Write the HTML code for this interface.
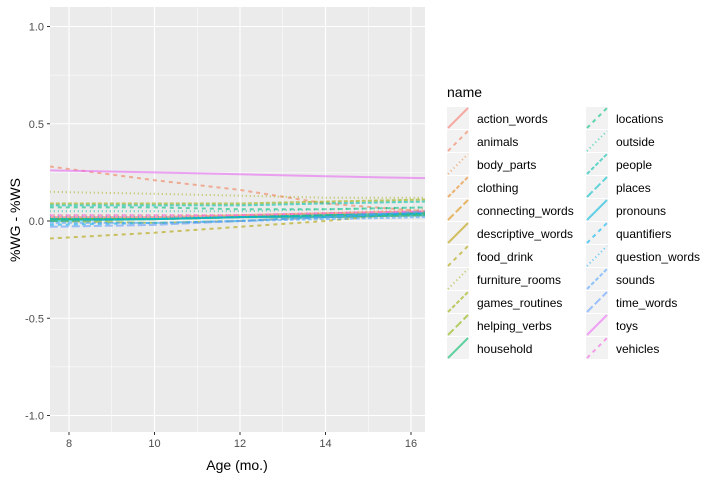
<!DOCTYPE html>
<html><head><meta charset="utf-8"><style>
body{margin:0;background:#fff;font-family:"Liberation Sans",Arial,sans-serif}
svg text{font-family:"Liberation Sans",Arial,sans-serif}
</style></head><body>
<svg id="chart" width="720" height="480"></svg>
<script>
const ages = [7.55, 10, 12, 14, 16.35];
const names = ["action_words","animals","body_parts","clothing","connecting_words","descriptive_words","food_drink","furniture_rooms","games_routines","helping_verbs","household","locations","outside","people","places","pronouns","quantifiers","question_words","sounds","time_words","toys","vehicles"];
const values = [
 [0.02,0.02,0.03,0.04,0.05],
 [0.28,0.21,0.16,0.09,0.05],
 [0.03,0.03,0.03,0.04,0.06],
 [0.01,0.01,0.02,0.03,0.04],
 [0.00,0.01,0.02,0.03,0.04],
 [0.01,0.01,0.02,0.02,0.03],
 [-0.09,-0.06,-0.03,0.00,0.05],
 [0.15,0.14,0.13,0.12,0.12],
 [0.09,0.09,0.09,0.10,0.11],
 [0.00,-0.01,0.00,0.02,0.03],
 [0.01,0.01,0.02,0.03,0.04],
 [0.07,0.07,0.06,0.06,0.07],
 [0.05,0.05,0.05,0.06,0.07],
 [0.08,0.08,0.08,0.09,0.10],
 [0.01,0.01,0.02,0.03,0.04],
 [0.00,0.01,0.02,0.02,0.03],
 [-0.02,-0.01,0.00,0.02,0.04],
 [0.02,0.02,0.02,0.03,0.04],
 [-0.01,-0.01,0.00,0.01,0.02],
 [-0.03,-0.02,0.00,0.02,0.05],
 [0.26,0.25,0.24,0.23,0.22],
 [0.03,0.03,0.03,0.04,0.05]
];
const yTicks = [1.0,0.5,0.0,-0.5,-1.0];
const yTickLabels = ["1.0","0.5","0.0","-0.5","-1.0"];
const xTicks = [8,10,12,14,16];

const colors = ["#F8766D","#F17E58","#EA8331","#E7861B","#DE8C00","#BB9D00","#B0A300","#A5A800","#99AD00","#8BB200","#00BD67","#00BF80","#00C097","#00C0AD","#00BFC4","#00B9DA","#00B2EE","#00A9FF","#4FA3FF","#619CFF","#E76BF3","#F564E3"];
const dashes = ["none","4 4","1 3","4 2","8 3","none","4 4","1 3","4 2","8 3","none","4 4","1 3","4 2","8 3","none","4 4","1 3","4 2","8 3","none","4 4"];

const S="http://www.w3.org/2000/svg", svg=document.getElementById('chart');
function el(t,a,p){const e=document.createElementNS(S,t);for(const k in a)e.setAttribute(k,a[k]);(p||svg).appendChild(e);return e;}
const px0=50,px1=425,py0=7,py1=432;
const xs=v=>69+(v-8)*42.75;
const ys=v=>221-v*194.5;

const panel=el('rect',{x:px0,y:py0,width:px1-px0,height:py1-py0,fill:'#EBEBEB'});


for(let v=1.25;v>-1.3;v-=0.5){const y=ys(v);if(y>py0&&y<py1)el('line',{x1:px0,x2:px1,y1:y,y2:y,stroke:'#fff','stroke-width':0.5});}
for(let v=9;v<=17;v+=2){const x=xs(v);if(x<px1)el('line',{x1:x,x2:x,y1:py0,y2:py1,stroke:'#fff','stroke-width':0.5});}
yTicks.forEach((v,i)=>{const y=ys(v);
 el('line',{x1:px0,x2:px1,y1:y,y2:y,stroke:'#fff','stroke-width':1.1});
 el('line',{x1:px0-3,x2:px0,y1:y,y2:y,stroke:'#333','stroke-width':1});
 const t=el('text',{x:px0-6,y:y+4,'text-anchor':'end','font-size':11,fill:'#4D4D4D'});t.textContent=yTickLabels[i];
 
 
});
xTicks.forEach(v=>{const x=xs(v);
 el('line',{x1:x,x2:x,y1:py0,y2:py1,stroke:'#fff','stroke-width':1.1});
 el('line',{x1:x,x2:x,y1:py1,y2:py1+3,stroke:'#333','stroke-width':1});
 const t=el('text',{x:x,y:py1+15,'text-anchor':'middle','font-size':11,fill:'#4D4D4D'});t.textContent=v;
 
 
});
const g=el('g',{'clip-path':'url(#clp)'});
const cp=el('clipPath',{id:'clp'});el('rect',{x:px0,y:py0,width:px1-px0,height:py1-py0},cp);
names.forEach((n,i)=>{
 const d=values[i].map((v,j)=>(j?'L':'M')+xs(ages[j]).toFixed(1)+','+ys(v).toFixed(1)).join('');
 const p=el('path',{d:d,fill:'none',stroke:colors[i],'stroke-width':2,'stroke-opacity':0.6,'stroke-dasharray':dashes[i]},g);
 
 
});
const xt=el('text',{x:237,y:470,'text-anchor':'middle','font-size':14,fill:'#000'});xt.textContent='Age (mo.)';


const yt=el('text',{x:0,y:0,transform:'translate(20,220) rotate(-90)','text-anchor':'middle','font-size':14,fill:'#000'});yt.textContent='%WG - %WS';


const lt=el('text',{x:447,y:97,'font-size':14,fill:'#000'});lt.textContent='name';


names.forEach((n,i)=>{
 const col=i<11?0:1,row=i%11;
 const kx=col?586:447,ky=107+row*23;
 const lg=el('g',{});
 
 
 el('rect',{x:kx,y:ky,width:22,height:22,fill:'#F2F2F2'},lg);
 el('line',{x1:kx+1,y1:ky+21,x2:kx+21,y2:ky+1,stroke:colors[i],'stroke-width':2,'stroke-opacity':0.6,'stroke-dasharray':dashes[i]},lg);
 const t=el('text',{x:kx+30,y:ky+16,'font-size':12,fill:'#000'},lg);t.textContent=n;
});
</script>
</body></html>
